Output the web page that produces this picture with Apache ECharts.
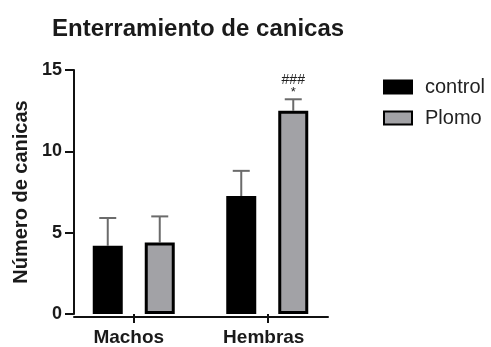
<!DOCTYPE html>
<html>
<head>
<meta charset="utf-8">
<script src="https://cdn.jsdelivr.net/npm/echarts@6/dist/echarts.min.js"></script>
<style>
  html, body { margin: 0; padding: 0; background: #fff; }
  #chart { width: 491px; height: 347px; }
</style>
</head>
<body>
<div id="chart"></div>
<script>
// Marble burying test: mean number of marbles buried, with SEM
const categories = ['Machos', 'Hembras'];
const seriesNames = ['control', 'Plomo'];
const controlMeans = [4.2, 7.25];
const plomoMeans = [4.4, 12.5];
const controlSem = [1.7, 1.55];
const plomoSem = [1.6, 0.7];
// significance marks above the error bar, listed bottom to top
const plomoMarks = [[], ['*', '###']];
const yTicks = { min: 0, max: 15, interval: 5 };

const FONT = '"Liberation Sans", Arial, sans-serif';
const BAR_W = 30;
const BAR_GAP = 22;          // px between the two bars of a group
const CAP_W = 17;

function errorSeries(name, means, sems, marks, side) {
  return {
    type: 'custom',
    name: name + ' SEM',
    xAxisIndex: 0,
    yAxisIndex: 0,
    z: 1,
    silent: true,
    data: means.map((m, i) => [i, m, m + sems[i]]),
    renderItem: function (params, api) {
      const i = api.value(0);
      const base = api.coord([i, api.value(1)]);
      const top = api.coord([i, api.value(2)]);
      const dx = side * (BAR_W + BAR_GAP) / 2;
      const x = base[0] + dx;
      const style = { stroke: '#6b6b6b', lineWidth: 2 };
      const children = [
        { type: 'line', shape: { x1: x, y1: base[1], x2: x, y2: top[1] }, style: style },
        { type: 'line', shape: { x1: x - CAP_W / 2, y1: top[1], x2: x + CAP_W / 2, y2: top[1] }, style: style }
      ];
      const lines = marks ? marks[params.dataIndex] : [];
      lines.forEach(function (t, k) {
        children.push({
          type: 'text',
          style: {
            x: x, y: top[1] - 7 - k * 12,
            text: t,
            align: 'center', verticalAlign: 'middle',
            font: (t === '*' ? '13px ' : '14px ') + FONT,
            fill: '#222'
          }
        });
      });
      return { type: 'group', children: children };
    }
  };
}

const chart = echarts.init(document.getElementById('chart'), null, { renderer: 'canvas' });

chart.setOption({
  animation: false,
  backgroundColor: '#fff',
  title: {
    text: 'Enterramiento de canicas',
    left: 47,
    top: 12,
    textStyle: { fontFamily: FONT, fontSize: 24, fontWeight: 'bold', color: '#1a1a1a' }
  },
  legend: {
    orient: 'vertical',
    left: 383,
    top: 77,
    padding: 0,
    itemWidth: 28,
    itemHeight: 13,
    itemGap: 11,
    icon: 'rect',
    data: seriesNames,
    textStyle: { fontFamily: FONT, fontSize: 20, color: '#222', padding: [0, 0, 0, 8] }
  },
  grid: [
    { left: 67, right: 157, top: 70, bottom: 30 },
    { left: 74, right: 163, top: 70, bottom: 30 }
  ],
  xAxis: [
    {
      type: 'category',
      gridIndex: 0,
      data: categories,
      axisLine: { show: false },
      axisTick: { show: true, alignWithLabel: true, length: 9, lineStyle: { color: '#111', width: 2 } },
      axisLabel: {
        margin: 14,
        formatter: function (v) { return v === 'Machos' ? '{m|' + v + '}' : '{h|' + v + '}'; },
        rich: {
          m: { fontFamily: FONT, fontSize: 19, fontWeight: 'bold', color: '#1a1a1a', padding: [0, 10, 0, 0] },
          h: { fontFamily: FONT, fontSize: 19, fontWeight: 'bold', color: '#1a1a1a', padding: [0, 7, 0, 0] }
        }
      }
    },
    {
      type: 'value',
      gridIndex: 1,
      min: 0, max: 1,
      axisLine: { show: true, lineStyle: { color: '#111', width: 2 } },
      axisTick: { show: false },
      axisLabel: { show: false },
      splitLine: { show: false }
    }
  ],
  yAxis: [
    {
      type: 'value',
      gridIndex: 0,
      min: yTicks.min, max: yTicks.max, interval: yTicks.interval,
      offset: -7,
      name: 'Número de canicas',
      nameLocation: 'middle',
      nameRotate: 90,
      nameGap: 42,
      nameTextStyle: { fontFamily: FONT, fontSize: 20, fontWeight: 'bold', color: '#1a1a1a' },
      axisLine: { show: true, lineStyle: { color: '#111', width: 2 } },
      axisTick: { show: true, length: 9, lineStyle: { color: '#111', width: 2 } },
      axisLabel: { margin: 12, fontFamily: FONT, fontSize: 18, fontWeight: 'bold', color: '#1a1a1a' },
      splitLine: { show: false }
    },
    {
      type: 'value', gridIndex: 1, min: 0, max: 15, show: false
    }
  ],
  series: [
    {
      name: 'control',
      type: 'bar',
      xAxisIndex: 0, yAxisIndex: 0,
      barWidth: BAR_W,
      barGap: (BAR_GAP / BAR_W * 100) + '%',
      z: 2,
      itemStyle: { color: '#000', borderColor: '#000', borderWidth: 3 },
      data: controlMeans
    },
    {
      name: 'Plomo',
      type: 'bar',
      xAxisIndex: 0, yAxisIndex: 0,
      barWidth: BAR_W,
      z: 2,
      itemStyle: { color: '#a2a2a6', borderColor: '#000', borderWidth: 3 },
      data: plomoMeans
    },
    errorSeries('control', controlMeans, controlSem, null, -1),
    errorSeries('Plomo', plomoMeans, plomoSem, plomoMarks, 1)
  ]
});
</script>
</body>
</html>
